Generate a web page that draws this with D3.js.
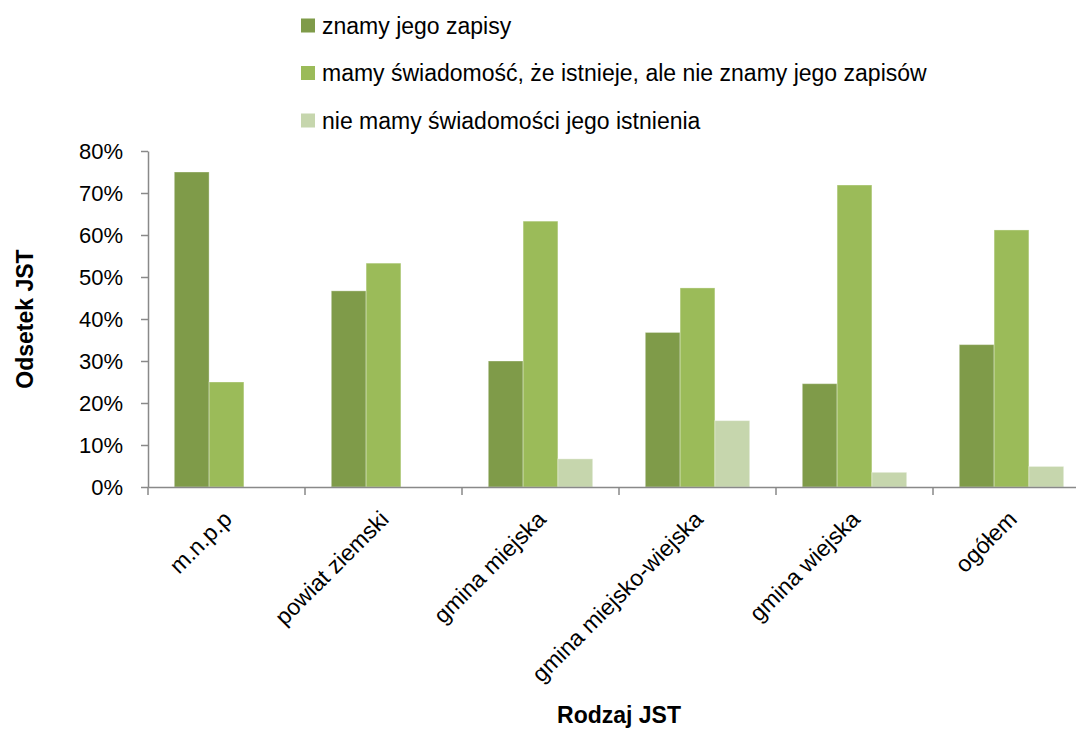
<!DOCTYPE html>
<html>
<head>
<meta charset="utf-8">
<script src="https://cdn.jsdelivr.net/npm/d3@7"></script>
<style>
  html, body { margin: 0; padding: 0; background: #fff; }
  svg { display: block; font-family: "Liberation Sans", Arial, sans-serif; }
</style>
</head>
<body>
<svg id="chart" width="1076" height="729"></svg>
<script>
// Rodzaje JST (kategorie osi X)
const categories = ["m.n.p.p", "powiat ziemski", "gmina miejska", "gmina miejsko-wiejska", "gmina wiejska", "ogółem"];

// Serie (odsetek JST, %)
const seriesNames = [
  "znamy jego zapisy",
  "mamy świadomość, że istnieje, ale nie znamy jego zapisów",
  "nie mamy świadomości jego istnienia"
];
const znamyZapisy        = [75.0, 46.7, 30.0, 36.8, 24.6, 33.9];
const mamySwiadomosc     = [25.0, 53.3, 63.3, 47.4, 71.9, 61.2];
const nieMamySwiadomosci = [0.0, 0.0, 6.7, 15.8, 3.5, 4.9];

const yTicks = [0, 10, 20, 30, 40, 50, 60, 70, 80];
const colors = ["#7f9b49", "#9bbb59", "#c6d6ad"];

const seriesValues = [znamyZapisy, mamySwiadomosc, nieMamySwiadomosci];
const rows = categories.map((c, i) => ({ cat: c, vals: seriesValues.map(s => s[i]) }));

const svg = d3.select("#chart");
const plotLeft = 148, plotRight = 1090, plotTop = 151, plotBottom = 487;

const x = d3.scaleBand().domain(categories).range([plotLeft, plotRight]).paddingInner(0).paddingOuter(0);
const groupWidth = x.bandwidth() * 0.665;
const xs = d3.scaleBand().domain(d3.range(seriesNames.length)).range([0, groupWidth]).padding(0);
const y = d3.scaleLinear().domain([0, 80]).range([plotBottom, plotTop]);

const axisColor = "#898989";
const fontSize = 22;
const labelSize = 23;

// Słupki
const groups = svg.append("g").selectAll("g")
  .data(rows).join("g")
  .attr("transform", d => `translate(${x(d.cat) + (x.bandwidth() - groupWidth) / 2},0)`);

groups.selectAll("rect")
  .data(d => d.vals.map((v, k) => ({ v, k })))
  .join("rect")
  .attr("x", d => xs(d.k))
  .attr("width", xs.bandwidth())
  .attr("y", d => y(d.v))
  .attr("height", d => y(0) - y(d.v))
  .attr("fill", d => colors[d.k])
  .attr("stroke", "rgba(255,255,255,0.35)")
  .attr("stroke-width", 1);

// Oś Y
const yAxis = svg.append("g")
  .attr("transform", `translate(${plotLeft},0)`)
  .call(d3.axisLeft(y).tickValues(yTicks).tickFormat(d => d + "%").tickSize(7).tickSizeOuter(0).tickPadding(18));
yAxis.select(".domain").attr("stroke", axisColor).attr("stroke-width", 1.5);
yAxis.selectAll(".tick line").attr("stroke", axisColor).attr("stroke-width", 1.5);
yAxis.selectAll(".tick text")
  .attr("fill", "#000").style("font-size", fontSize + "px").attr("dy", "0.36em");

// Oś X
const xAxis = svg.append("g")
  .attr("transform", `translate(0,${plotBottom})`)
  .call(d3.axisBottom(x).tickSize(0).tickSizeOuter(0).tickFormat(""));
xAxis.select(".domain").attr("stroke", axisColor).attr("stroke-width", 1.5);
xAxis.selectAll(".tick").remove();

// Znaczniki między kategoriami
const boundaries = categories.map(c => x(c)).concat([plotRight]);
svg.append("g").selectAll("line")
  .data(boundaries).join("line")
  .attr("x1", d => d).attr("x2", d => d)
  .attr("y1", plotBottom).attr("y2", plotBottom + 8)
  .attr("stroke", axisColor).attr("stroke-width", 1.5);

// Etykiety kategorii (obrócone)
svg.append("g").selectAll("text")
  .data(categories).join("text")
  .attr("transform", d => `translate(${x(d) + x.bandwidth() / 2 + 1},${plotBottom + 28}) rotate(-45)`)
  .attr("text-anchor", "end")
  .attr("dy", "0.35em")
  .style("font-size", labelSize + "px")
  .attr("fill", "#000")
  .text(d => d);

// Tytuły osi
svg.append("text")
  .attr("transform", `translate(33,${(plotTop + plotBottom) / 2}) rotate(-90)`)
  .attr("text-anchor", "middle")
  .style("font-size", "23px").style("font-weight", "bold")
  .text("Odsetek JST");

svg.append("text")
  .attr("x", (plotLeft + plotRight) / 2).attr("y", 723)
  .attr("text-anchor", "middle")
  .style("font-size", "23px").style("font-weight", "bold")
  .text("Rodzaj JST");

// Legenda
const legend = svg.append("g").selectAll("g")
  .data(seriesNames).join("g")
  .attr("transform", (d, i) => `translate(301,${25.5 + i * 47.5})`);
legend.append("rect")
  .attr("x", 0).attr("y", -7).attr("width", 14).attr("height", 14)
  .attr("fill", (d, i) => colors[i]);
legend.append("text")
  .attr("x", 21).attr("y", 0).attr("dy", "0.35em")
  .style("font-size", labelSize + "px")
  .text(d => d);
</script>
</body>
</html>
